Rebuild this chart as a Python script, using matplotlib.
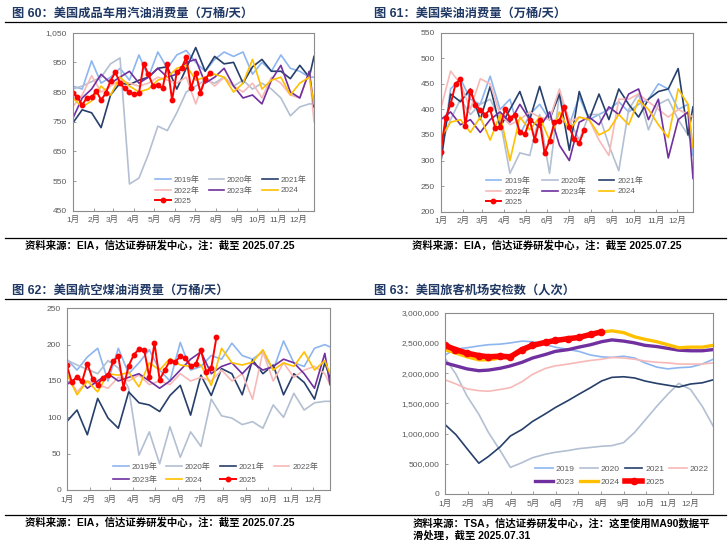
import numpy as np
import matplotlib.pyplot as plt
from matplotlib.lines import Line2D
from matplotlib.ticker import FuncFormatter

plt.rcParams['font.family'] = ['Liberation Sans', 'Noto Sans CJK SC']

W, H = 728, 548

MONTHS = ['1月', '2月', '3月', '4月', '5月', '6月', '7月', '8月', '9月', '10月', '11月', '12月']
MONTH_START_DAYS = [0, 31, 59, 90, 120, 151, 181, 212, 243, 273, 304, 334]

LABELS_A = ['2019年', '2020年', '2021年', '2022年', '2023年', '2024', '2025']
LABELS_B = ['2019', '2020', '2021', '2022', '2023', '2024', '2025']
COLORS = ['#8DB6F0', '#B3BFD2', '#263F6B', '#F7B9B7', '#7030A0', '#FFC000', '#FF0000']

# weekly index (EIA weekly data), background years sampled every two weeks
WEEKS_BI = list(range(0, 51, 2)) + [51]
WEEKS_25 = list(range(30))

# ---- 图60 gasoline (万桶/天)
gas_2019 = [870, 860, 955, 880, 900, 930, 890, 975, 900, 985, 930, 975, 990, 950, 920, 960, 985, 970, 985, 910, 950, 920, 975, 930, 920, 900, 900]
gas_2020 = [860, 870, 885, 900, 945, 965, 540, 560, 640, 735, 720, 780, 850, 870, 890, 880, 900, 870, 890, 860, 880, 860, 830, 770, 800, 810, 810]
gas_2021 = [745, 790, 780, 730, 840, 880, 875, 890, 900, 930, 935, 860, 930, 1000, 920, 970, 945, 950, 880, 935, 960, 920, 920, 895, 940, 900, 970]
gas_2022 = [800, 840, 905, 850, 870, 890, 880, 870, 880, 900, 890, 880, 900, 810, 900, 870, 900, 870, 850, 880, 830, 900, 880, 840, 830, 920, 750]
gas_2023 = [760, 830, 860, 910, 880, 900, 920, 880, 900, 930, 900, 910, 950, 960, 880, 900, 930, 870, 830, 840, 810, 890, 940, 850, 830, 920, 800]
gas_2024 = [830, 800, 820, 870, 840, 900, 870, 850, 860, 890, 900, 930, 940, 890, 900, 910, 900, 850, 880, 960, 860, 890, 900, 840, 880, 900, 810]
gas_2025 = [848, 834, 806, 831, 832, 854, 823, 846, 888, 917, 881, 862, 850, 842, 846, 944, 910, 870,
            875, 862, 944, 823, 917, 930, 967, 862, 915, 848, 893, 915]

# ---- 图61 diesel (万桶/天)
dsl_2019 = [300, 440, 460, 420, 410, 465, 400, 420, 350, 390, 410, 380, 435, 370, 425, 380, 390, 400, 415, 395, 410, 420, 450, 440, 400, 410, 310]
dsl_2020 = [330, 380, 420, 390, 410, 420, 380, 275, 315, 310, 390, 275, 430, 380, 340, 390, 390, 330, 280, 400, 430, 360, 410, 420, 380, 350, 330]
dsl_2021 = [295, 430, 415, 440, 380, 445, 365, 400, 435, 380, 445, 380, 430, 320, 435, 380, 430, 380, 440, 410, 385, 420, 435, 440, 480, 350, 405]
dsl_2022 = [400, 475, 450, 400, 460, 450, 390, 370, 380, 395, 385, 380, 440, 375, 385, 380, 340, 310, 420, 420, 430, 415, 400, 385, 400, 390, 385]
dsl_2023 = [380, 395, 370, 380, 355, 380, 395, 375, 410, 380, 365, 395, 330, 300, 375, 385, 370, 405, 390, 430, 440, 380, 420, 305, 380, 395, 265]
dsl_2024 = [345, 375, 380, 355, 385, 340, 390, 300, 385, 360, 385, 340, 395, 360, 385, 380, 350, 360, 390, 370, 418, 400, 370, 345, 440, 410, 325]
dsl_2025 = [317, 384, 410, 450, 459, 368, 436, 409, 399, 390, 400, 364, 366, 400, 384, 389, 355, 351,
            379, 340, 379, 314, 339, 375, 378, 404, 365, 342, 334, 360]

# ---- 图62 jet fuel (万桶/天)
jet_2019 = [180, 165, 183, 195, 150, 195, 160, 175, 193, 165, 150, 203, 165, 170, 185, 180, 202, 185, 180, 190, 165, 205, 175, 170, 195, 200, 197]
jet_2020 = [179, 172, 166, 160, 178, 168, 140, 48, 80, 36, 87, 45, 80, 60, 125, 102, 99, 90, 94, 85, 117, 100, 133, 110, 120, 122, 122]
jet_2021 = [94, 110, 76, 126, 99, 85, 135, 120, 117, 108, 130, 144, 103, 158, 130, 167, 160, 131, 179, 160, 172, 131, 160, 148, 125, 175, 155]
jet_2022 = [160, 135, 150, 145, 140, 155, 150, 158, 145, 150, 145, 160, 150, 155, 150, 165, 150, 160, 125, 190, 150, 175, 155, 165, 170, 160, 145]
jet_2023 = [145, 155, 140, 150, 160, 150, 155, 160, 150, 140, 150, 165, 180, 190, 160, 170, 175, 160, 175, 165, 170, 180, 175, 160, 140, 188, 145]
jet_2024 = [160, 131, 150, 135, 160, 158, 162, 142, 175, 165, 181, 172, 170, 172, 144, 195, 175, 172, 176, 193, 165, 175, 170, 190, 165, 178, 160]
jet_2025 = [172, 148, 156, 150, 174, 153, 145, 154, 158, 177, 184, 141, 171, 186, 194, 193, 155, 202,
            152, 165, 178, 176, 184, 181, 171, 173, 193, 163, 168, 210]

# ---- 图63 TSA throughput, MA90 (人次)
TSA_DAYS = [0, 15, 30, 46, 59, 75, 89, 105, 119, 137, 150, 168, 182, 198, 213, 227, 243, 258, 272, 288, 303, 318, 334, 350, 365]
tsa_2019 = [2300000, 2400000, 2420000, 2450000, 2470000, 2480000, 2500000, 2530000, 2520000, 2470000, 2430000, 2390000, 2360000,
            2300000, 2270000, 2260000, 2280000, 2250000, 2170000, 2100000, 2070000, 2090000, 2100000, 2150000, 2230000]
tsa_2020 = [2250000, 1980000, 1620000, 1320000, 1020000, 720000, 440000, 520000, 600000, 660000, 690000, 720000, 750000,
            770000, 790000, 800000, 850000, 1020000, 1220000, 1450000, 1650000, 1830000, 1730000, 1450000, 1120000]
tsa_2021 = [1150000, 980000, 750000, 510000, 620000, 780000, 960000, 1070000, 1200000, 1330000, 1430000, 1550000, 1650000,
            1760000, 1870000, 1930000, 1940000, 1920000, 1870000, 1830000, 1800000, 1770000, 1820000, 1840000, 1890000]
tsa_2022 = [1890000, 1820000, 1740000, 1710000, 1700000, 1730000, 1760000, 1860000, 1980000, 2080000, 2120000, 2150000, 2180000,
            2210000, 2230000, 2260000, 2250000, 2230000, 2200000, 2180000, 2170000, 2150000, 2150000, 2150000, 2170000]
tsa_2023 = [2170000, 2120000, 2070000, 2040000, 2050000, 2080000, 2120000, 2180000, 2250000, 2310000, 2360000, 2390000, 2430000,
            2470000, 2520000, 2550000, 2530000, 2500000, 2460000, 2440000, 2410000, 2380000, 2370000, 2370000, 2390000]
tsa_2024 = [2390000, 2330000, 2270000, 2220000, 2220000, 2250000, 2260000, 2360000, 2440000, 2500000, 2530000, 2560000, 2590000,
            2630000, 2680000, 2700000, 2670000, 2600000, 2560000, 2520000, 2470000, 2420000, 2430000, 2430000, 2460000]
TSA_DAYS_25 = [0, 14, 30, 46, 59, 75, 89, 105, 119, 137, 150, 168, 182, 198, 212]
tsa_2025 = [2460000, 2390000, 2330000, 2290000, 2270000, 2280000, 2270000, 2390000, 2460000, 2510000, 2540000, 2570000,
            2590000, 2640000, 2680000]


def px_rect(l, t, r, b):
    return [l / W, 1 - b / H, (r - l) / W, (b - t) / H]


def hline(fig, x0, x1, y):
    fig.add_artist(Line2D([x0 / W, x1 / W], [1 - y / H, 1 - y / H], transform=fig.transFigure,
                          color='black', lw=0.9))


def ftext(fig, x, y, s, **kw):
    fig.text(x / W, 1 - y / H, s, va='center', ha='left', **kw)


def style_axes(ax, ylim, ystep, xticks, xmax):
    ax.set_xlim(0, xmax)
    ax.set_ylim(*ylim)
    ax.set_yticks(np.arange(ylim[0], ylim[1] + 1, ystep))
    ax.yaxis.set_major_formatter(FuncFormatter(lambda v, p: f'{v:,.0f}'))
    ax.set_xticks(xticks)
    ax.set_xticklabels(MONTHS)
    for s in ax.spines.values():
        s.set_color('#8C8C8C')
        s.set_linewidth(0.8)
    ax.tick_params(direction='in', length=2.5, width=0.6, color='#8C8C8C',
                   labelsize=6, labelcolor='#595959', pad=4)


def add_legend(ax, lines, labels, order, ncol, anchor, **kw):
    opts = dict(fontsize=5.8, handlelength=1.95, handletextpad=0.35, columnspacing=1.15, labelspacing=0.3)
    opts.update(kw)
    ax.legend([lines[i] for i in order], [labels[i] for i in order], ncol=ncol,
              loc='lower center', bbox_to_anchor=anchor, frameon=False,
              labelcolor='#595959', borderaxespad=0, borderpad=0.2, **opts)


def weekly_panel(ax, series, s25):
    lines = []
    for ys, c in zip(series, COLORS[:6]):
        ln, = ax.plot(WEEKS_BI, ys, color=c, lw=1.2)
        lines.append(ln)
    ln, = ax.plot(WEEKS_25, s25, color=COLORS[6], lw=1.4, marker='o', ms=3.2)
    lines.append(ln)
    return lines


fig = plt.figure(figsize=(W / 100, H / 100), dpi=100)
week_ticks = [d / 7 for d in MONTH_START_DAYS]
title_kw = dict(fontsize=8.8, fontweight='bold', color='#1F3864')
src_kw = dict(fontsize=7.5, fontweight='bold', color='black')

# 图60
ax1 = fig.add_axes(px_rect(72.7, 32.7, 314, 210.7))
l1 = weekly_panel(ax1, [gas_2019, gas_2020, gas_2021, gas_2022, gas_2023, gas_2024], gas_2025)
style_axes(ax1, (450, 1050), 100, week_ticks, 51)
add_legend(ax1, l1, LABELS_A, [0, 3, 6, 1, 4, 2, 5], 3, (0.655, 0.025))

# 图61
ax2 = fig.add_axes(px_rect(440.7, 32.7, 693, 211.7))
l2 = weekly_panel(ax2, [dsl_2019, dsl_2020, dsl_2021, dsl_2022, dsl_2023, dsl_2024], dsl_2025)
style_axes(ax2, (200, 550), 50, week_ticks, 51)
add_legend(ax2, l2, LABELS_A, [0, 3, 6, 1, 4, 2, 5], 3, (0.49, 0.025), columnspacing=1.5)

# 图62
ax3 = fig.add_axes(px_rect(66.7, 308.3, 330, 490))
l3 = weekly_panel(ax3, [jet_2019, jet_2020, jet_2021, jet_2022, jet_2023, jet_2024], jet_2025)
style_axes(ax3, (0, 250), 50, week_ticks, 51)
add_legend(ax3, l3, LABELS_A, [0, 4, 1, 5, 2, 6, 3], 4, (0.565, 0.025), labelspacing=0.6)

# 图63
ax4 = fig.add_axes(px_rect(445, 312.7, 713.3, 494))
l4 = []
for ys, c, lw in zip([tsa_2019, tsa_2020, tsa_2021, tsa_2022, tsa_2023, tsa_2024], COLORS[:6],
                     [1.2, 1.2, 1.2, 1.2, 2.4, 2.4]):
    ln, = ax4.plot(TSA_DAYS, ys, color=c, lw=lw)
    l4.append(ln)
ln, = ax4.plot(TSA_DAYS_25, tsa_2025, color=COLORS[6], lw=4, marker='o', ms=4.5)
l4.append(ln)
style_axes(ax4, (0, 3000000), 500000, MONTH_START_DAYS, 365)
add_legend(ax4, l4, LABELS_B, [0, 4, 1, 5, 2, 6, 3], 4, (0.66, 0.035),
           fontsize=6.1, handlelength=2.1, handletextpad=0.32, columnspacing=0.6, labelspacing=0.6)

# titles, rules and sources
ftext(fig, 12, 13.5, '图 60：美国成品车用汽油消费量（万桶/天）', **title_kw)
ftext(fig, 374, 13.5, '图 61：美国柴油消费量（万桶/天）', **title_kw)
ftext(fig, 12, 290.5, '图 62：美国航空煤油消费量（万桶/天）', **title_kw)
ftext(fig, 374, 290.5, '图 63：美国旅客机场安检数（人次）', **title_kw)
hline(fig, 5, 726, 21.5)
hline(fig, 5, 726, 238)
hline(fig, 5, 726, 299)
hline(fig, 5, 726, 514.5)
ftext(fig, 25, 245.5, '资料来源：EIA，信达证券研发中心，注：截至 2025.07.25', **src_kw)
ftext(fig, 412, 245.5, '资料来源：EIA，信达证券研发中心，注：截至 2025.07.25', **src_kw)
ftext(fig, 25, 522, '资料来源：EIA，信达证券研发中心，注：截至 2025.07.25', **src_kw)
ftext(fig, 413, 523, '资料来源：TSA，信达证券研发中心，注：这里使用MA90数据平', **src_kw)
ftext(fig, 413, 536, '滑处理，截至 2025.07.31', **src_kw)

fig.savefig('out.png', dpi=100)
